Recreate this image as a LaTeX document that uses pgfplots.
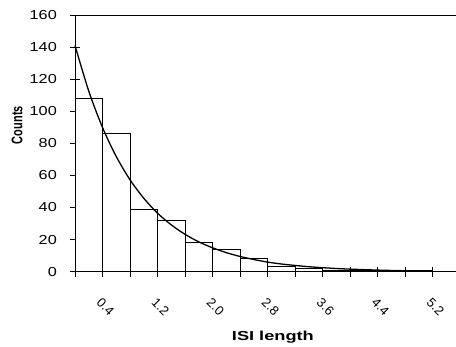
\documentclass[border=0pt]{standalone}
\usepackage{graphicx}
\usepackage{fontspec}
\setmainfont{Liberation Sans}
\newfontfamily\tickfont{Liberation Sans}[FakeStretch=1.25]
\usepackage{pgfplots}
\pgfplotsset{compat=1.18}
\newcommand{\rl}[1]{\rotatebox{-45}{#1}}
\begin{document}
\begin{tikzpicture}
\path[use as bounding box] (0,0) rectangle (456pt,347pt);
\begin{axis}[
  at={(75pt,75.3pt)}, anchor=origin,
  scale only axis, width=385pt, height=256.7pt,
  xmin=0, xmax=5.6, ymin=0, ymax=160,
  axis line style={line width=0.8pt},
  tick pos=left, tick align=center, major tick length=10pt,
  tick style={line width=0.8pt, black},
  xtick={0,0.4,0.8,1.2,1.6,2.0,2.4,2.8,3.2,3.6,4.0,4.4,4.8,5.2},
  xticklabels={,\rl{0.4},,\rl{1.2},,\rl{2.0},,\rl{2.8},,\rl{3.6},,\rl{4.4},,\rl{5.2}},
  ytick={0,20,...,160},
  /pgf/number format/assume math mode=true,
  yticklabel style={font=\tickfont\fontsize{13}{15}\selectfont, anchor=east, inner sep=0pt, xshift=-13pt},
  xticklabel style={font=\fontsize{13}{15}\selectfont, anchor=center, inner sep=0pt, yshift=-30pt, xshift=3pt},
  xlabel={\scalebox{1.4}[1]{\bfseries\fontsize{13}{15}\selectfont ISI length}},
  xlabel style={at={(axis description cs:0.514,-0.254)}, anchor=center},
  ylabel={\scalebox{1}[1.4]{\bfseries\fontsize{11}{13}\selectfont Counts}},
  ylabel style={at={(axis description cs:-0.1506,0.571)}, anchor=center},
  clip=false,
]
\addplot[ybar interval, draw=black, fill=white, line width=0.8pt] coordinates {
  (0,108) (0.4,86) (0.8,39) (1.2,32) (1.6,18) (2.0,14) (2.4,8)
  (2.8,3) (3.2,2) (3.6,1) (4.0,1) (4.4,0.5) (4.8,0.5) (5.2,0.5)
};
\addplot[black, line width=1.3pt, smooth] coordinates {
  (0,141) (0.2,112.6) (0.4,89.9) (0.6,71.8) (0.8,57.3) (1.0,45.8)
  (1.2,36.5) (1.4,29.2) (1.6,23.3) (1.8,18.6) (2.0,14.9) (2.2,11.9)
  (2.4,9.5) (2.6,7.6) (2.8,6.0) (3.0,4.8) (3.2,3.9) (3.4,3.1)
  (3.6,2.5) (3.8,2.0) (4.0,1.6) (4.4,1.0) (4.8,0.6) (5.2,0.4)
};
\end{axis}
\end{tikzpicture}
\end{document}
